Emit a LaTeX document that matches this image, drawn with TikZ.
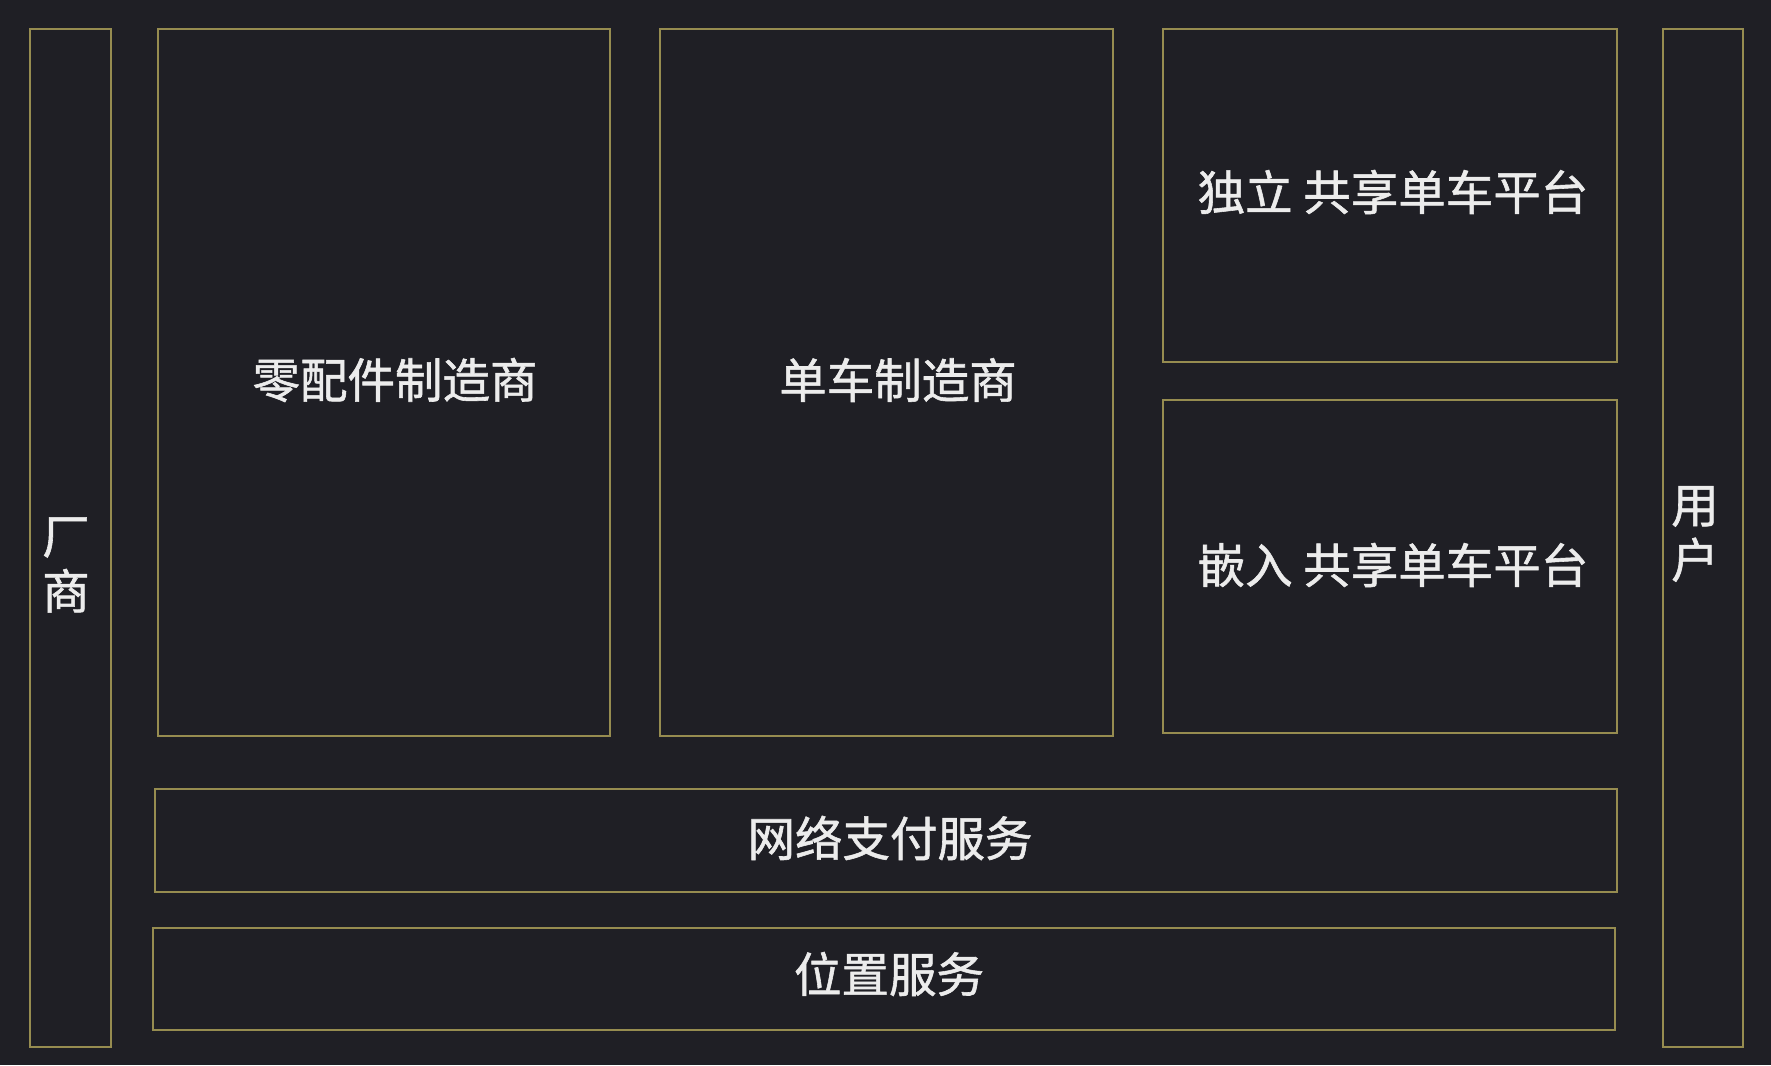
\documentclass[tikz,border=0pt]{standalone}
\usepackage{fontspec}
\newfontfamily\cjk[FakeBold=1.2]{Noto Sans CJK SC}
\definecolor{bgdark}{RGB}{31,31,37}
\definecolor{frameolive}{RGB}{150,140,80}
\definecolor{labelgray}{RGB}{236,236,236}

\begin{document}
\begin{tikzpicture}[x=1pt, y=-1pt,
	box/.style={rectangle, draw=frameolive, line width=2.6pt, inner sep=0pt},
	lbl/.style={text=labelgray, font=\cjk\fontsize{47.5}{55}\selectfont, align=center, inner sep=0pt}]
	% 背景
	\fill[bgdark] (0, 0) rectangle (1771, 1065);
	\useasboundingbox (0, 0) rectangle (1771, 1065);

	% 枠
	\node[box, minimum width=81pt, minimum height=1018pt] (factory) at (70.5, 538) {};
	\node[box, minimum width=452pt, minimum height=707pt] (parts) at (384, 382.5) {};
	\node[box, minimum width=453pt, minimum height=707pt] (maker) at (886.5, 382.5) {};
	\node[box, minimum width=454pt, minimum height=333pt] (indep) at (1390, 195.5) {};
	\node[box, minimum width=454pt, minimum height=333pt] (embed) at (1390, 566.5) {};
	\node[box, minimum width=1462pt, minimum height=103pt] (pay) at (886, 840.5) {};
	\node[box, minimum width=1462pt, minimum height=102pt] (loc) at (884, 979) {};
	\node[box, minimum width=80pt, minimum height=1018pt] (user) at (1703, 538) {};

	% 文字
	\node[lbl] (factorytext) at (66, 565) {厂\\商};
	\node[lbl] (partstext) at (395, 380) {零配件制造商};
	\node[lbl] (makertext) at (898, 380) {单车制造商};
	\node[lbl] (indeptext) at (1393, 192) {独立 共享单车平台};
	\node[lbl] (embedtext) at (1393, 565) {嵌入 共享单车平台};
	\node[lbl] (paytext) at (890, 838) {网络支付服务};
	\node[lbl] (loctext) at (889, 974) {位置服务};
	\node[lbl] (usertext) at (1695, 534) {用\\户};
\end{tikzpicture}
\end{document}
